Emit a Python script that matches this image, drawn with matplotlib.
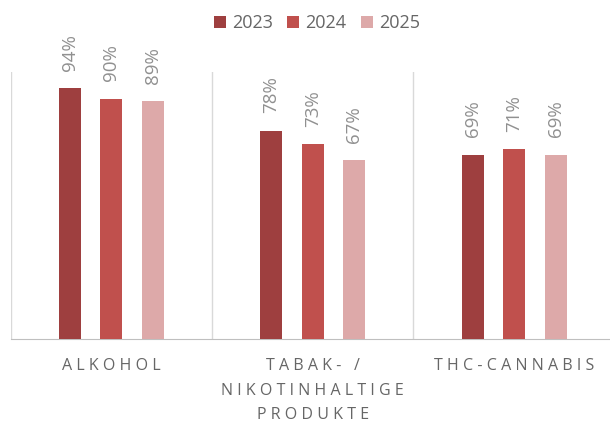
import matplotlib
matplotlib.use('Agg')
import matplotlib.pyplot as plt
import numpy as np

# Daten
kategorien = ['ALKOHOL', 'TABAK- /\nNIKOTINHALTIGE\nPRODUKTE', 'THC-CANNABIS']
jahre = ['2023', '2024', '2025']
werte_2023 = [94, 78, 69]
werte_2024 = [90, 73, 71]
werte_2025 = [89, 67, 69]
farben = ['#9E3F3F', '#C0504D', '#DDA9A9']

plt.rcParams['font.family'] = ['Open Sans', 'DejaVu Sans']
grau = '#909090'


def sperren(text):
    # Buchstaben etwas auseinanderziehen
    return '\n'.join('\u2009\u200a'.join(zeile) for zeile in text.split('\n'))


fig = plt.figure(figsize=(6.1, 4.25), dpi=100)
ax = fig.add_axes([10.5 / 610, 86 / 425, 604.5 / 610, 267 / 425])

x = np.arange(len(kategorien))
breite = 0.109
abstand = 0.206
for i, (jahr, werte) in enumerate(zip(jahre, [werte_2023, werte_2024, werte_2025])):
    pos = x + (i - 1) * abstand
    balken = ax.bar(pos, werte, breite, color=farben[i], label=jahr, zorder=3)
    for b, w in zip(balken, werte):
        ax.text(b.get_x() + b.get_width() / 2, w + 6.5, f'{w}%', rotation=90,
                ha='center', va='bottom', fontsize=13.5, color=grau)

ax.set_xlim(-0.5, 2.5)
ax.set_ylim(0, 100)
ax.set_yticks([])
ax.set_xticks(x)
ax.set_xticklabels([sperren(k) for k in kategorien], fontsize=11.5, color='#666666',
                   linespacing=1.7)
ax.tick_params(axis='x', length=0, pad=14)

for s in ['top', 'right', 'left']:
    ax.spines[s].set_visible(False)
ax.spines['bottom'].set_color('#BFBFBF')

# Trennlinien zwischen den Kategorien
for t in [-0.5, 0.5, 1.5, 2.5]:
    ax.axvline(t, color='#D9D9D9', lw=1, zorder=1)

fig.legend(loc='upper center', bbox_to_anchor=(317 / 610, 1.005), ncol=3, frameon=False,
           fontsize=13, handlelength=0.65, handleheight=0.65, handletextpad=0.35,
           columnspacing=0.8, labelcolor='#666666')

plt.savefig('out.png', dpi=100)
plt.close()
